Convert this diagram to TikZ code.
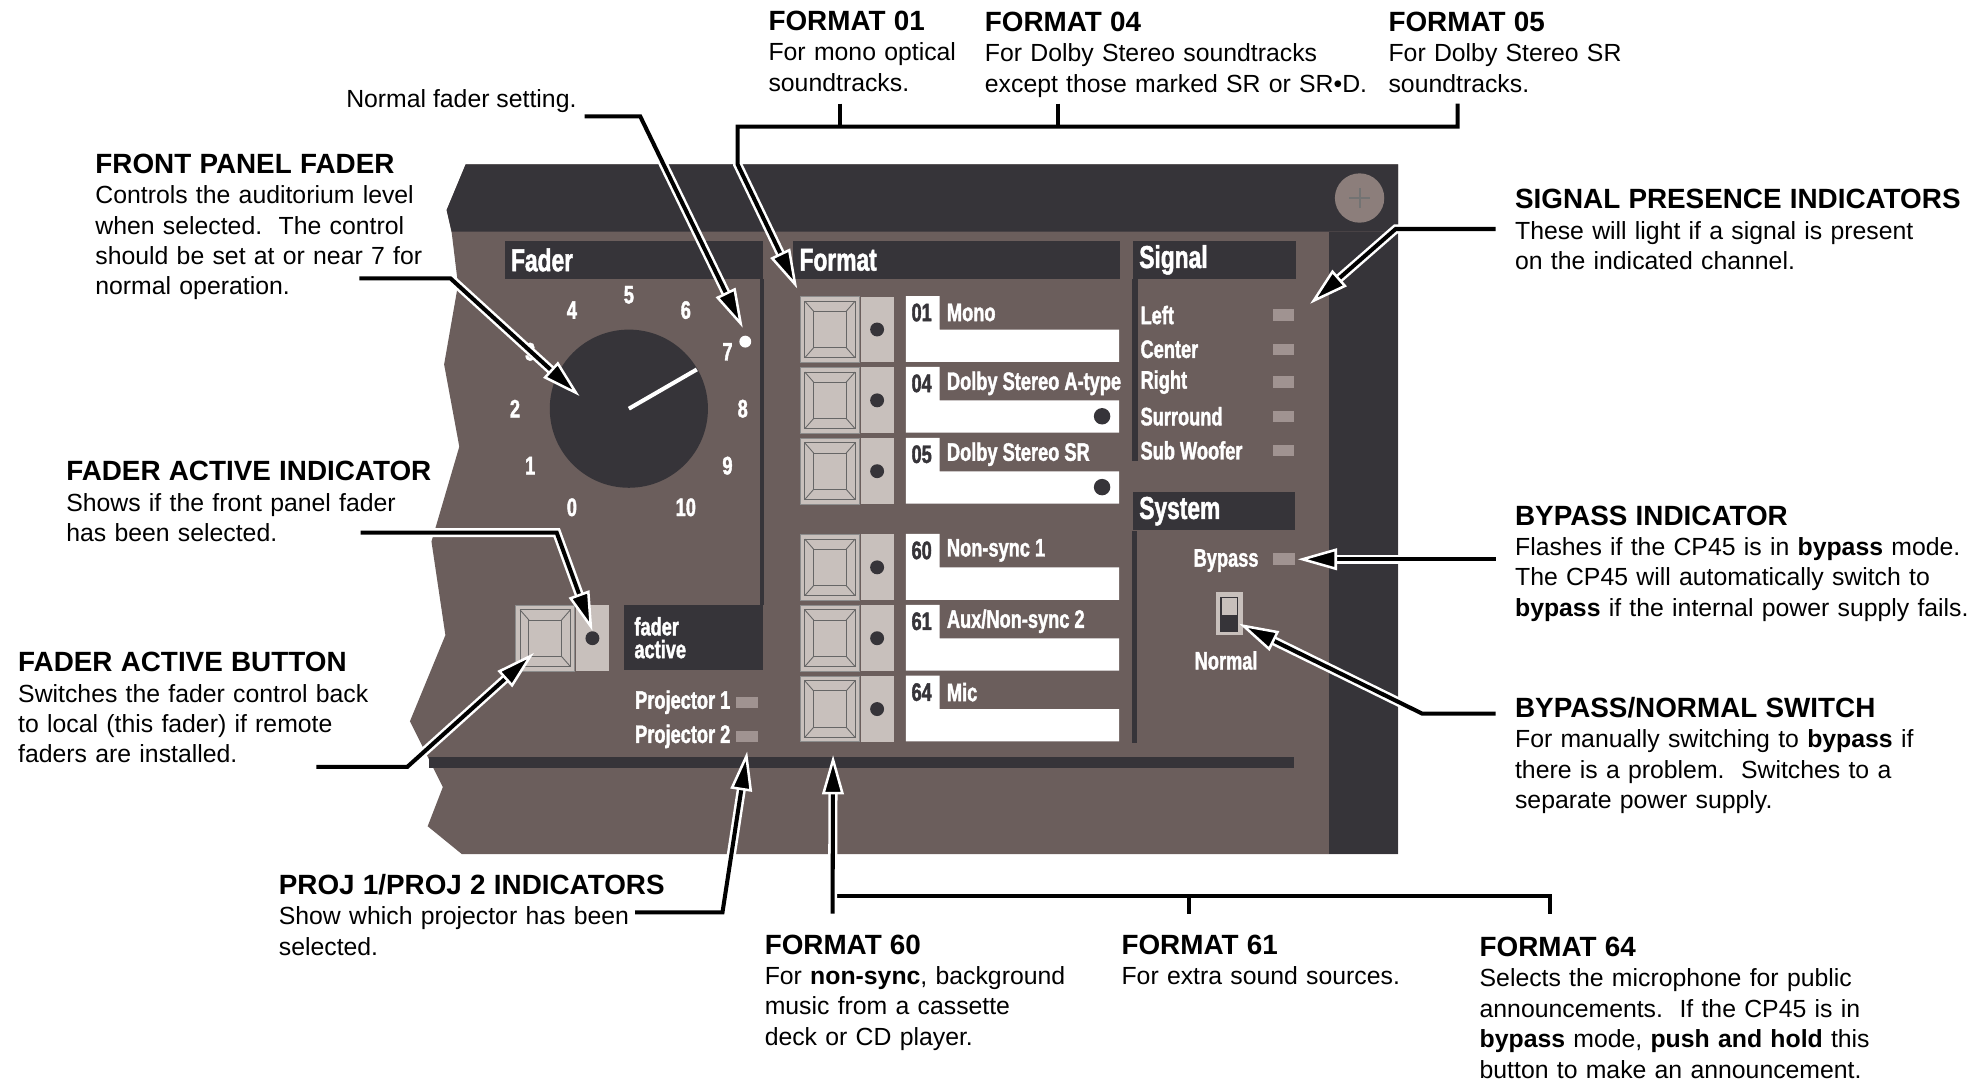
\documentclass[tikz,border=0pt]{standalone}
\usepackage{fontspec}
\setmainfont{Liberation Sans}
\newfontfamily\panelfont{Liberation Sans Bold}[FakeStretch=0.72, FakeBold=1.5]
\usepackage{tikz}
\usetikzlibrary{positioning,arrows.meta,calc}
\frenchspacing
\definecolor{panelbrown}{RGB}{107,94,92}
\definecolor{paneldark}{RGB}{54,52,57}
\definecolor{btnlight}{RGB}{200,192,188}
\definecolor{ledoff}{RGB}{160,147,145}
\definecolor{screwc}{RGB}{140,126,123}
\newcommand{\callhead}[1]{{\fontsize{11}{12}\selectfont\bfseries #1}}
\tikzset{
  hdr/.style={fill=paneldark, text=white, font=\panelfont\fontsize{12.5}{14}\selectfont,
              anchor=north west, inner xsep=2.5pt, inner ysep=0pt, minimum height=15pt, align=left},
  pnltxt/.style={font=\panelfont\fontsize{10}{12}\selectfont, text=white, inner sep=0pt},
  numtxt/.style={pnltxt, text=paneldark, anchor=west},
  led/.style={fill=ledoff, minimum width=8.5pt, minimum height=4.5pt, inner sep=0pt},
  btn/.style={fill=btnlight, draw=black!45, line width=0.4pt, minimum width=23.5pt, minimum height=26pt,
              inner sep=0pt, anchor=north west},
  bevel/.style={draw=black!60, line width=0.35pt},
  side/.style={fill=btnlight, minimum width=13pt, minimum height=26pt, inner sep=0pt},
  dot/.style={circle, fill=paneldark, minimum size=5.5pt, inner sep=0pt},
  bigdot/.style={dot, minimum size=6.5pt},
  note/.style={font=\fontsize{9.8}{12}\selectfont, anchor=base west, text width=195pt, align=left, inner sep=0pt},
  callout/.style={draw=black, line width=1.6pt,
                  -{Triangle[length=15.5pt, width=8.5pt, line width=1pt, color=white, fill=black]},
                  preaction={draw=white, line width=3.6pt, arrows=-, shorten >=7pt}},
  bracket/.style={draw=black, line width=1.6pt}
}

\begin{document}
\begin{tikzpicture}[x=0.5pt, y=-0.5pt]
\useasboundingbox (0,0) rectangle (1568,855);
\fill[white] (0,0) rectangle (1568,855);

% panel body
\fill[panelbrown] (368,130) -- (1105,130) -- (1105,675) -- (365,675) -- (338,653) -- (350,622) -- (324,570)
  -- (352,502) -- (341,428) -- (363,353) -- (351,288) -- (362,225) -- (357,184) -- (353,166) -- cycle;
\fill[paneldark] (368,130) -- (1105,130) -- (1105,183) -- (357,183) -- (353,166) -- cycle;
\fill[paneldark] (1050.5,183) rectangle (1105,675);
\fill[paneldark] (339,598) rectangle (1022.5,607);
\node[circle, fill=screwc, minimum size=19.5pt, inner sep=0pt] (screw) at (1074.5,156.5) {};
\draw[black!55, line width=0.8pt] ([xshift=-4pt]screw.center) -- ([xshift=4pt]screw.center)
  ([yshift=-4pt]screw.center) -- ([yshift=4pt]screw.center);

% section headers
\node[hdr, text width=97.25pt] (fadhdr) at (398.5,190) {Fader};
\node[hdr, text width=124pt] (fmthdr) at (626.5,190) {Format};
\node[hdr, text width=59.5pt] (sighdr) at (895,190) {Signal};
\node[hdr, text width=58.9pt] (syshdr) at (895,388.6) {System};
\node[fill=paneldark, minimum width=55.25pt, minimum height=25.75pt, inner sep=0pt, anchor=north west] (fabox) at (492.5,478) {};
\fill[paneldark] ([xshift=-1.75pt]fadhdr.south east) rectangle (fabox.north east);
\fill[paneldark] (sighdr.south west) rectangle (899,364);
\fill[paneldark] (syshdr.south west) rectangle (898.5,587);
\node[pnltxt, anchor=west] (fadtxt) at (501,495) {fader};
\node[pnltxt, anchor=west] (acttxt) at (501,513) {active};

% fader knob and scale
\node[circle, fill=paneldark, minimum size=62.5pt, inner sep=0pt] (knob) at (497,323) {};
\draw[white, line width=1.6pt] (knob.center) -- ++(-30:62);
\foreach \v [evaluate=\v as \a using 30*\v-240] in {0,...,10}
  \node[pnltxt] (dial\v) at ([shift={(\a:90)}]knob.center) {\v};
\node[circle, fill=white, minimum size=4.7pt, inner sep=0pt] (setdot) at (589,270) {};

% push buttons
\foreach \n/\bx/\by in {fa/407/478, 01/632/234, 04/632/290, 05/632/346, 60/632/422, 61/632/478, 64/632/534}{
  \node[btn] (btn\n) at (\bx,\by) {};
  \draw[bevel] ([shift={(4,4)}]btn\n.north west) rectangle ([shift={(-4,-4)}]btn\n.south east);
  \draw[bevel] ([shift={(11,12)}]btn\n.north west) rectangle ([shift={(-11,-12)}]btn\n.south east);
  \draw[bevel] ([shift={(4,4)}]btn\n.north west) -- ([shift={(11,12)}]btn\n.north west)
    ([shift={(-4,4)}]btn\n.north east) -- ([shift={(-11,12)}]btn\n.north east)
    ([shift={(4,-4)}]btn\n.south west) -- ([shift={(11,-12)}]btn\n.south west)
    ([shift={(-4,-4)}]btn\n.south east) -- ([shift={(-11,-12)}]btn\n.south east);
  \node[side, right=0pt of btn\n] (side\n) {};
  \node[dot] (dot\n) at (side\n) {};
}

% format labels
\foreach \n/\by/\name in {01/234/Mono, 04/290/Dolby Stereo A-type, 05/346/Dolby Stereo SR,
                          60/422/Non-sync 1, 61/478/{Aux/Non-sync 2}, 64/534/Mic}{
  \fill[white] (716,\by) -- ++(26.5,0) -- ++(0,26.5) -- (884.5,\by+26.5) -- (884.5,\by+52) -- (716,\by+52) -- cycle;
  \node[numtxt] (num\n) at (720,\by+13) {\n};
  \node[pnltxt, anchor=west] (name\n) at (748,\by+13) {\name};
}
\node[bigdot] (sr04) at (871,329) {};
\node[bigdot] (sr05) at (871,385) {};

% signal indicators
\foreach \t/\ly [count=\i] in {Left/249, Center/276, Right/302, Surround/329, Sub Woofer/356}{
  \node[pnltxt, anchor=west] (sig\i) at (901,\ly) {\t};
  \node[led] (led\i) at (1014.5,\ly) {};
}

% system
\node[pnltxt] (bypass) at (969,443) {Bypass};
\node[led, minimum width=8.75pt, minimum height=4.75pt] (byled) at (1014.5,442) {};
\node[fill=btnlight, minimum width=10.5pt, minimum height=17pt, inner sep=0pt] (switch) at (971.5,485) {};
\draw[fill=btnlight, draw=paneldark, line width=0.5pt] (965,472) rectangle (978,499);
\fill[paneldark] (965,486) rectangle (978,499);
\node[pnltxt] (normal) at (969,522) {Normal};

% projector indicators
\node[led] (p1led) at (590.5,555) {};
\node[led] (p2led) at (590.5,582) {};
\node[pnltxt, left=2pt of p1led] (p1txt) {Projector 1};
\node[pnltxt, left=2pt of p2led] (p2txt) {Projector 2};

% callout texts
\node[font=\fontsize{9.8}{12}\selectfont, anchor=base east, inner sep=0pt] (nfs) at (456,85) {Normal fader setting.};
\node[note] (f01) at (607,24) {\callhead{FORMAT 01}\\For mono optical\\soundtracks.};
\node[note] (f04) at (778,25) {\callhead{FORMAT 04}\\For Dolby Stereo soundtracks\\except those marked SR or SR•D.};
\node[note] (f05) at (1097,25) {\callhead{FORMAT 05}\\For Dolby Stereo SR\\soundtracks.};
\node[note] (fpf) at (75,137) {\callhead{FRONT PANEL FADER}\\Controls the auditorium level\\when selected.~ The control\\should be set at or near 7 for\\normal operation.};
\node[note] (sig) at (1197,165) {\callhead{SIGNAL PRESENCE INDICATORS}\\These will light if a signal is present\\on the indicated channel.};
\node[note] (fai) at (52,380) {\callhead{FADER ACTIVE INDICATOR}\\Shows if the front panel fader\\has been selected.};
\node[note] (byi) at (1197,415) {\callhead{BYPASS INDICATOR}\\Flashes if the CP45 is in \textbf{bypass} mode.\\The CP45 will automatically switch to\\\textbf{bypass} if the internal power supply fails.};
\node[note] (fab) at (14,531) {\callhead{FADER ACTIVE BUTTON}\\Switches the fader control back\\to local (this fader) if remote\\faders are installed.};
\node[note] (bns) at (1197,567) {\callhead{BYPASS/NORMAL SWITCH}\\For manually switching to \textbf{bypass} if\\there is a problem.~ Switches to a\\separate power supply.};
\node[note] (proj) at (220,707) {\callhead{PROJ 1/PROJ 2 INDICATORS}\\Show which projector has been\\selected.};
\node[note] (f60) at (604,754) {\callhead{FORMAT 60}\\For \textbf{non-sync}, background\\music from a cassette\\deck or CD player.};
\node[note] (f61) at (886,754) {\callhead{FORMAT 61}\\For extra sound sources.};
\node[note] (f64) at (1169,756) {\callhead{FORMAT 64}\\Selects the microphone for public\\announcements.~ If the CP45 is in\\\textbf{bypass} mode, \textbf{push and hold} this\\button to make an announcement.};

% connector ends
\coordinate (nfsA) at (462,92);
\coordinate (tipset) at (587,259);
\coordinate (f05A) at (1152,82);
\coordinate (f01T) at (664,82);
\coordinate (f04T) at (836,82);
\coordinate (fpfA) at (284,220);
\coordinate (tipknob) at (458,313);
\coordinate (faiA) at (285,421);
\coordinate (fabA) at (250,606);
\coordinate (tipfab) at (422,516);
\coordinate (projA) at (502,721);
\coordinate (f60A) at (658,722);
\coordinate (f61T) at (940,722);
\coordinate (f64T) at (1225,722);
\coordinate (sigA) at (1182,181);
\coordinate (byiA) at (1182,442);
\coordinate (bnsA) at (1182,564);

% connectors
\draw[callout] (nfsA) -- ++(44,0) -- (tipset);
\draw[callout] (f05A) -- ++(0,18) -- ++(-569,0) -- ++(0,30) -- ([shift={(-2,-6)}]btn01.north west);
\draw[bracket] (f01T) -- ++(0,18) (f04T) -- ++(0,18);
\draw[callout] (fpfA) -- ++(72,0) -- (tipknob);
\draw[callout] (faiA) -- ++(155,0) -- (dotfa.north);
\draw[callout] (fabA) -- ++(72,0) -- (tipfab);
\draw[callout] (projA) -- ++(69,0) -- ([yshift=-3.5pt]p2led.south);
\draw[bracket] (f60A |- 0,708) -- (f64T |- 0,708) -- (f64T) (f61T) -- ++(0,-14);
\draw[callout] (f60A) -- ([shift={(2.5,10)}]btn64.south);
\draw[callout] (sigA) -- ++(-79,0) -- ([shift={(12,-4)}]led1.north east);
\draw[callout] (byiA) -- ([xshift=1pt]byled.east);
\draw[callout] (bnsA) -- ++(-58,0) -- ([shift={(-3,8)}]switch.east);
\end{tikzpicture}
\end{document}
